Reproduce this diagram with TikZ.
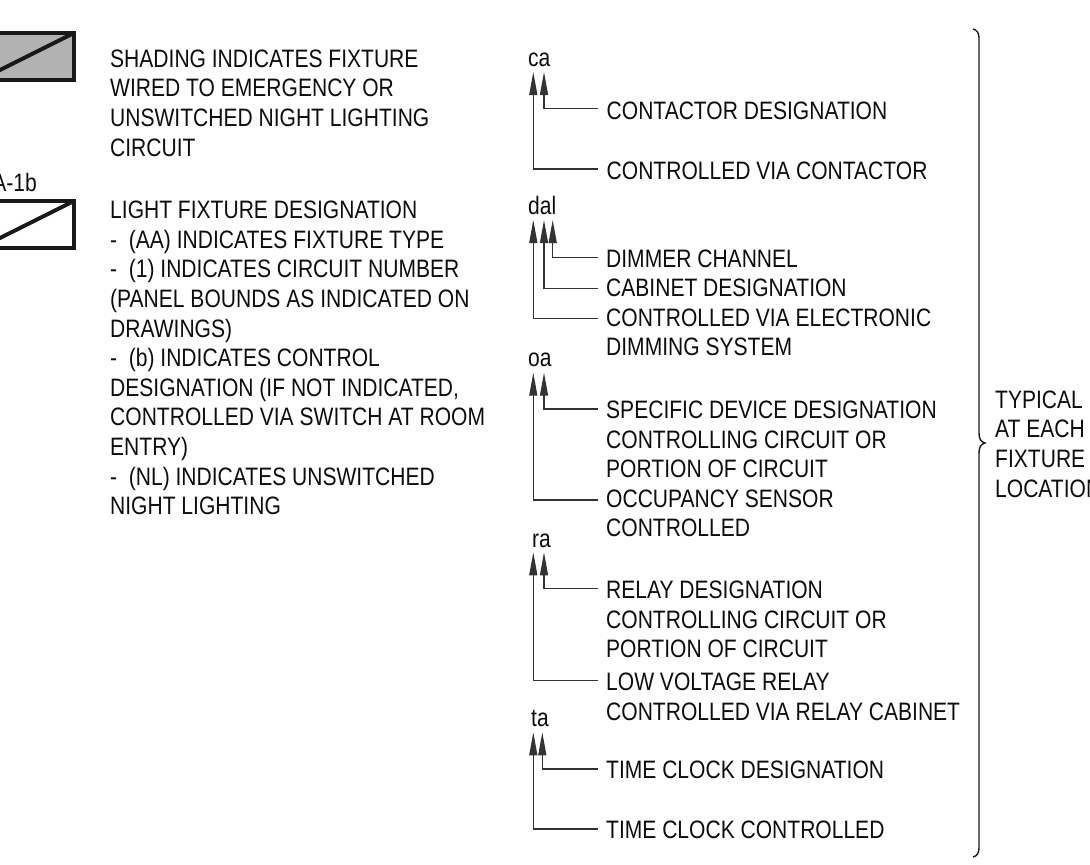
\documentclass[tikz,border=0pt]{standalone}
\usepackage{fontspec}
\setmainfont[FakeStretch=0.835]{Liberation Sans}
\usetikzlibrary{arrows.meta}
\tikzset{
  lbl/.style={anchor=base west,inner sep=0pt,font=\fontsize{25.2}{29.6}\selectfont,align=left,text=black!95},
  tag/.style={inner sep=0pt,font=\fontsize{25.2}{29.6}\selectfont,text=black!95,anchor=base west},
  fix/.style={draw=black!90,line width=4pt,line join=miter},
  lead/.style={draw=black!80,line width=1.3pt,{Triangle[width=8pt,length=23pt]}-},
  brace/.style={draw=black!90,line width=1.4pt}
}
\begin{document}
\begin{tikzpicture}[x=1pt,y=-1pt]
\useasboundingbox (0,0) rectangle (1090,865);
% fixtures
\begin{scope}
\clip (0,0) rectangle (1090,865);
\draw[fix,fill=black!30] (-40,33) rectangle (74,80);
\draw[fix] (-40,90) -- (74,33);
\draw[fix] (-40,201) rectangle (74,247.5);
\draw[fix] (-40,258) -- (74,201);
\end{scope}
\node[tag,anchor=base east] (fixtag) at (37,191.7) {A-1b};
% left text (anchored on the baseline of the last line)
\node[lbl] (shade) at (110,156) {SHADING INDICATES FIXTURE\\WIRED TO EMERGENCY OR\\UNSWITCHED NIGHT LIGHTING\\CIRCUIT};
\node[lbl] (light) at (110,514.6) {LIGHT FIXTURE DESIGNATION\\-\ \ (AA) INDICATES FIXTURE TYPE\\-\ \ (1) INDICATES CIRCUIT NUMBER\\(PANEL BOUNDS AS INDICATED ON\\DRAWINGS)\\-\ \ (b) INDICATES CONTROL\\DESIGNATION (IF NOT INDICATED,\\CONTROLLED VIA SWITCH AT ROOM\\ENTRY)\\-\ \ (NL) INDICATES UNSWITCHED\\NIGHT LIGHTING};
% designators
\node[tag] (ca) at (528,66.7) {ca};
\node[tag] (dal) at (528,214.5) {dal};
\node[tag] (oa) at (528,366.7) {oa};
\node[tag] (ra) at (532,547.3) {ra};
\node[tag] (ta) at (531,726.7) {ta};
% labels
\node[lbl] (l1) at (606.5,119) {CONTACTOR DESIGNATION};
\node[lbl] (l2) at (606.5,179.3) {CONTROLLED VIA CONTACTOR};
\node[lbl] (l3) at (606,267.7) {DIMMER CHANNEL};
\node[lbl] (l4) at (606,296.7) {CABINET DESIGNATION};
\node[lbl] (l5) at (606,355.7) {CONTROLLED VIA ELECTRONIC\\DIMMING SYSTEM};
\node[lbl] (l6) at (606,477.7) {SPECIFIC DEVICE DESIGNATION\\CONTROLLING CIRCUIT OR\\PORTION OF CIRCUIT};
\node[lbl] (l7) at (606,536.7) {OCCUPANCY SENSOR\\CONTROLLED};
\node[lbl] (l8) at (606,657.7) {RELAY DESIGNATION\\CONTROLLING CIRCUIT OR\\PORTION OF CIRCUIT};
\node[lbl] (l9) at (606,720) {LOW VOLTAGE RELAY\\CONTROLLED VIA RELAY CABINET};
\node[lbl] (l10) at (606,778.3) {TIME CLOCK DESIGNATION};
\node[lbl] (l11) at (606,838.3) {TIME CLOCK CONTROLLED};
% leader ends
\coordinate (e1) at (598,108.3);
\coordinate (e2) at (598,169);
\coordinate (e3) at (598,257.3);
\coordinate (e4) at (598,288.3);
\coordinate (e5) at (598,318.3);
\coordinate (e6) at (598,409);
\coordinate (e7) at (598,500);
\coordinate (e8) at (598,588.3);
\coordinate (e9) at (598,680.7);
\coordinate (e10) at (598,769);
\coordinate (e11) at (598,829);
% leader tips
\coordinate (t1) at (544,72);
\coordinate (t2) at (533.3,72);
\coordinate (t3) at (552.7,220);
\coordinate (t4) at (544,220);
\coordinate (t5) at (533.3,220);
\coordinate (t6) at (544,372.7);
\coordinate (t7) at (533.3,372.7);
\coordinate (t8) at (544,552.3);
\coordinate (t9) at (533.3,552.3);
\coordinate (t10) at (542.3,732.3);
\coordinate (t11) at (533.3,732.3);
\foreach \n in {1,...,11}{\draw[lead] (t\n) -- (t\n|-e\n) -- (e\n);}
% brace
\node[lbl] (typ) at (995,497) {TYPICAL\\AT EACH\\FIXTURE\\LOCATION};
\coordinate (btop) at (973,29);
\coordinate (bmid) at (985,443);
\coordinate (bbot) at (973,857);
\draw[brace] (btop) .. controls (977,30) and (979,33) .. (979,38) -- (979,433) .. controls (979,439) and (981,442) .. (bmid) .. controls (981,444) and (979,447) .. (979,453) -- (979,848) .. controls (979,853) and (977,856) .. (bbot);
\end{tikzpicture}
\end{document}
